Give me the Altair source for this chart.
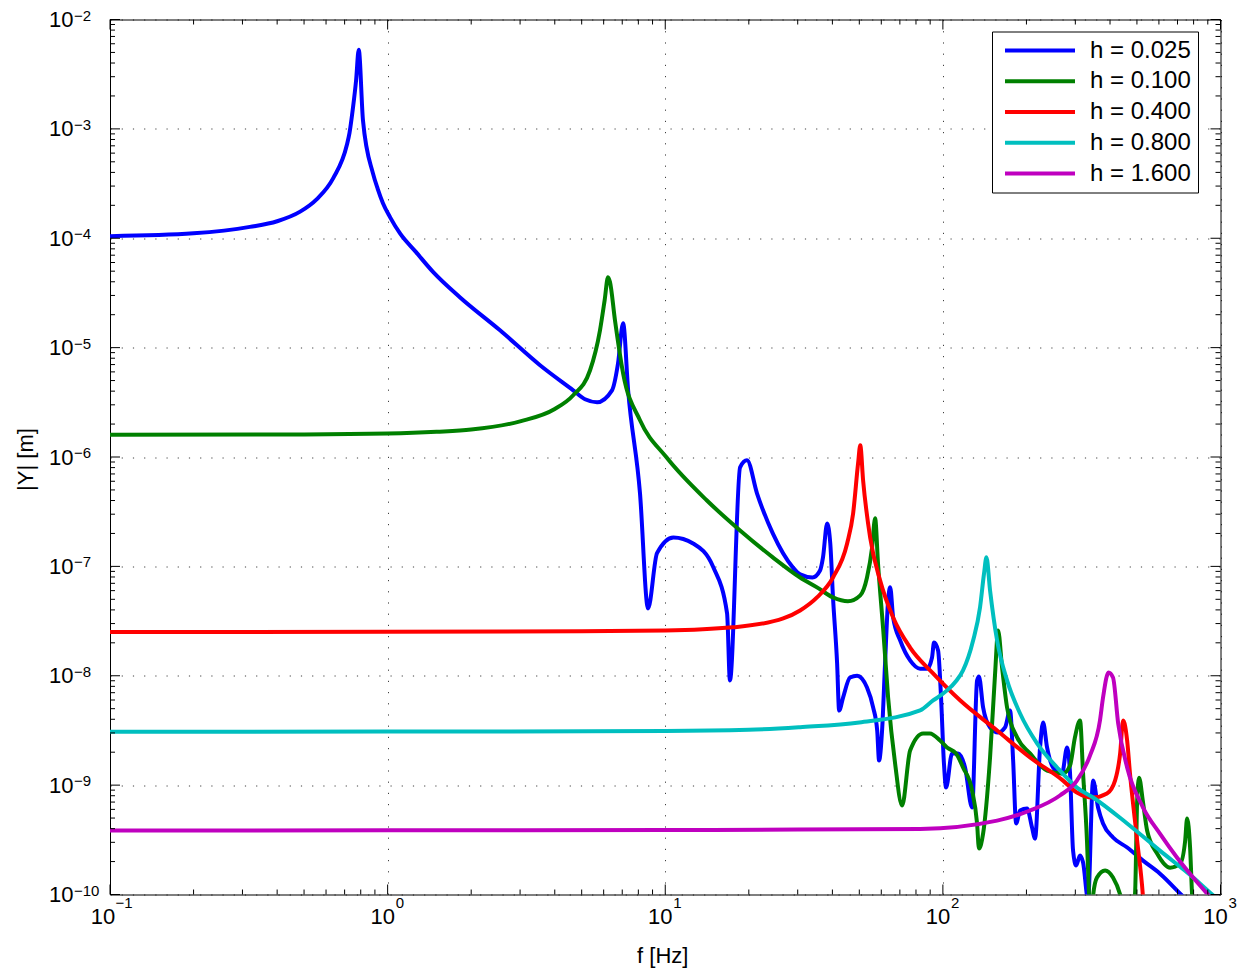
import altair as alt
import pandas as pd

labels = ["h = 0.025", "h = 0.100", "h = 0.400", "h = 0.800", "h = 1.600"]
colors = ["#0000ff", "#008000", "#ff0000", "#00bfbf", "#bf00bf"]

blue_f = [0.1, 0.2, 0.319, 0.4, 0.484, 0.556, 0.637, 0.713, 0.729, 0.75, 0.77, 0.787, 0.815, 0.885,
          0.921, 0.962, 1.02, 1.11, 1.266, 1.46, 1.82, 2.54, 3.54, 4.66, 5.14, 5.68, 6.43, 6.76, 7.05,
          7.35, 8.11, 8.67, 9.34, 10.7, 12.6,
          14.9, 16.7, 17.1, 18.6, 19.7, 21.4, 24.4, 28.8, 30.6, 33.9, 36.1, 37.0, 38.3, 39.3, 40.2,
          41.6, 42.3, 43.7, 46.3, 49.1, 53.3, 56.1, 58.0, 58.9, 60.4, 61.9, 63.5, 64.6, 66.2, 70.2,
          76.2, 82.8, 87.7, 91.4, 92.9, 96.1, 98.5, 100.9, 102.7, 107.9, 113.4, 120.2, 127.4, 132.8,
          134.9, 139.6, 147.9, 158.1, 167.5, 174.6, 179.1, 183.6, 189.7, 201.0, 209.5, 214.8, 223.9,
          229.6, 237.3, 249.5, 268.7, 280.1, 287.1, 294.4, 302, 311.9, 319.9, 333.4, 347.5, 362.2,
          377.5, 410.2, 461.3, 526, 605.5, 715.6, 845]
blue_y = [1.045e-4, 1.11e-4, 1.27e-4, 1.43e-4, 1.75e-4, 2.28e-4, 3.55e-4, 7.11e-4, 9.2e-4, 1.55e-3,
          2.79e-3, 5.3e-3, 1.2e-3, 3.94e-4, 2.83e-4, 2.09e-4, 1.56e-4, 1.1e-4, 7.46e-5, 4.9e-5,
          2.89e-5, 1.44e-5, 6.9e-6, 4.07e-6, 3.37e-6, 3.17e-6,
          4.07e-6, 7.2e-6, 1.67e-5, 4.07e-6, 4.66e-7, 4.13e-8, 1.32e-7, 1.84e-7, 1.62e-7, 9.8e-8,
          3.72e-8, 9.06e-9, 8.05e-7, 9.33e-7, 4.66e-7, 2.0e-7, 9.8e-8, 8.45e-8, 7.92e-8, 9.18e-8,
          1.21e-7, 2.47e-7, 1.62e-7, 5.2e-8, 1.29e-8, 4.81e-9, 6.32e-9, 9.64e-9, 1.0e-8, 7.8e-9,
          5.12e-9, 3.16e-9, 1.68e-9, 3.16e-9, 1.29e-8, 4.89e-8, 6.43e-8, 3.41e-8, 2.1e-8, 1.38e-8,
          1.16e-8, 1.16e-8, 1.47e-8, 2.01e-8, 1.70e-8, 6.32e-9, 1.57e-9, 9.5e-10, 1.95e-9, 1.95e-9,
          1.45e-9, 6.24e-10, 9.06e-9, 9.86e-9, 5.13e-9, 3.37e-9, 3.03e-9, 3.37e-9, 4.82e-9, 1.68e-9,
          4.46e-10, 5.86e-10, 6.11e-10, 4.09e-10, 3.24e-10, 2.21e-9, 3.74e-9, 2.21e-9, 1.45e-9,
          1.28e-9, 2.21e-9, 1.28e-9, 2.52e-10, 1.84e-10, 2.27e-10, 1.96e-10, 9e-11, 1.1e-9, 6.24e-10,
          4.46e-10, 3.32e-10, 2.69e-10, 2.04e-10, 1.55e-10, 1.02e-10, 6.7e-11]

green_f = [0.1, 0.5, 1.0, 1.5, 2.0, 3.0, 4.0, 4.66, 5.36, 5.82, 6.05, 6.22, 6.32, 6.59, 7.05, 8.11, 10.1,
           14.1, 18.6, 24.4, 30.6, 35.2, 40.2, 45.5, 50.4, 53.3, 55.6, 57.0, 58.4, 61.0, 63.5, 67.3,
           71.3, 76.2, 84.9, 89.8, 97.7, 103.5, 111.5, 118.2, 127.4, 132.8, 134.9, 139.6, 147.9,
           154.2, 158.1, 163.4, 170.3, 185.1, 206, 237.3, 271, 287.1, 299, 311.9, 319.9, 330.4, 336,
           342, 348, 359, 384, 410, 435, 461, 492, 501, 509, 525, 544, 591, 658, 716, 746, 758, 777,
           790, 810]
green_y = [1.60e-6, 1.61e-6, 1.64e-6, 1.70e-6, 1.78e-6, 2.12e-6, 2.75e-6, 3.67e-6, 6.21e-6, 1.44e-5,
           2.72e-5, 4.4e-5, 4.0e-5, 1.78e-5, 5.83e-6, 2.17e-6, 9.93e-7, 4.02e-7, 2.13e-7, 1.21e-7,
           7.92e-8, 6.43e-8, 5.2e-8, 4.79e-8, 5.43e-8, 7.92e-8, 1.49e-7, 2.75e-7, 1.06e-7, 2.59e-8,
           6.32e-9, 1.57e-9, 6.5e-10, 2.07e-9, 2.97e-9, 2.97e-9, 2.56e-9, 2.21e-9, 1.95e-9, 1.45e-9,
           8.95e-10, 4.46e-10, 2.63e-10, 3.6e-10, 1.79e-9, 1.05e-8, 2.59e-8, 1.19e-8, 5.13e-9, 2.73e-9,
           1.95e-9, 1.36e-9, 1.28e-9, 1.51e-9, 2.73e-9, 3.9e-9, 1.28e-9, 3.11e-10, 1.0e-10, 4e-11,
           1.0e-10, 1.43e-10, 1.66e-10, 1.43e-10, 1.0e-10, 5e-11, 1.0e-10, 7.2e-10, 1.17e-9, 7.2e-10,
           3.85e-10, 2.37e-10, 1.76e-10, 1.92e-10, 3.11e-10, 4.94e-10, 2.69e-10, 1.0e-10, 5e-11]

red_f = [0.1, 1.0, 5.0, 10.0, 17.5, 26.6, 30.6, 35.2, 40.2, 45.2, 47.5, 49.5, 50.4, 51.6, 54.7, 59.4,
         66.2, 76.2, 92.2, 115.3, 156.8, 206, 271, 304, 347.5, 390, 417, 435, 446, 461, 472, 501,
         525, 535]
red_y = [2.51e-8, 2.52e-8, 2.55e-8, 2.59e-8, 2.77e-8, 3.34e-8, 3.95e-8, 5.2e-8, 7.92e-8, 1.62e-7,
         3.05e-7, 8.75e-7, 1.28e-6, 6.12e-7, 1.84e-7, 7.45e-8, 3.41e-8, 1.81e-8, 1.05e-8, 5.96e-9,
         3.16e-9, 1.79e-9, 1.1e-9, 8.55e-10, 7.71e-10, 8.38e-10, 1.1e-9, 1.95e-9, 3.9e-9, 2.56e-9,
         1.28e-9, 3.11e-10, 1.0e-10, 5e-11]

cyan_f = [0.1, 1.0, 10.0, 20.0, 30.6, 50.0, 82.8, 92.2, 98.0, 103.5, 112.0, 118.2, 128.5, 136.1,
          140.7, 143.5, 147.9, 156.8, 170.3, 189.7, 218.4, 257.9, 304, 347.5, 461, 605, 797, 933, 1000]
cyan_y = [3.08e-9, 3.09e-9, 3.12e-9, 3.2e-9, 3.39e-9, 3.74e-9, 4.82e-9, 5.94e-9, 6.6e-9, 7.35e-9,
          9.06e-9, 1.12e-8, 2.1e-8, 4.22e-8, 8.63e-8, 1.21e-7, 6.03e-8, 2.1e-8, 9.06e-9, 4.52e-9,
          2.41e-9, 1.45e-9, 9.5e-10, 7.71e-10, 4.46e-10, 2.52e-10, 1.43e-10, 1.0e-10, 8.6e-11]

mag_f = [0.1, 1.0, 10.0, 30.0, 82.8, 156.8, 206, 264, 304, 339, 368, 377.5, 395, 410, 428, 461, 526,
         605, 698, 797, 895, 1000]
mag_y = [3.85e-10, 3.86e-10, 3.88e-10, 3.92e-10, 3.98e-10, 4.74e-10, 5.86e-10, 8.04e-10, 1.1e-9,
         1.87e-9, 3.9e-9, 6.32e-9, 1.07e-8, 9.64e-9, 3.66e-9, 1.45e-9, 6.24e-10, 3.6e-10, 2.17e-10,
         1.43e-10, 1.02e-10, 7.5e-11]

x_major = [0.1, 1, 10, 100, 1000]
x_exp = ["\u22121", "0", "1", "2", "3"]
y_major = [1e-10, 1e-9, 1e-8, 1e-7, 1e-6, 1e-5, 1e-4, 1e-3, 1e-2]
y_exp = ["\u221210", "\u22129", "\u22128", "\u22127", "\u22126", "\u22125", "\u22124", "\u22123", "\u22122"]
x_minor = [m * 10.0 ** k for k in range(-1, 3) for m in range(2, 10)]
y_minor = [m * 10.0 ** k for k in range(-10, -2) for m in range(2, 10)]

series = [(labels[0], blue_f, blue_y), (labels[1], green_f, green_y), (labels[2], red_f, red_y),
          (labels[3], cyan_f, cyan_y), (labels[4], mag_f, mag_y)]
rows = []
for name, fs, ysv in series:
    for i, (f, y) in enumerate(zip(fs, ysv)):
        rows.append({"h": name, "f": f, "Y": y, "i": i})
df = pd.DataFrame(rows)

W, H = 1110.5, 875
FONT = "Liberation Sans"
xs = alt.Scale(type="log", domain=[0.1, 1000], nice=False)
ys = alt.Scale(type="log", domain=[1e-10, 1e-2], nice=False)

x_axis = alt.Axis(values=x_major, labelExpr="'10'", labelFont=FONT, labelFontSize=22, labelColor="black",
                  labelPadding=12, labelOffset={"condition": {"test": "datum.value < 0.5", "value": -7.5}, "value": -5.5},
                  labelFlush=False, labelOverlap=False, ticks=False, domain=False,
                  grid=True, gridColor="black", gridOpacity=0.75, gridDash=[1.2, 10], gridWidth=1,
                  title="f [Hz]", titleFont=FONT, titleFontSize=22, titleFontWeight="normal",
                  titleColor="black", titleX=W / 2 - 3, titleY=68, titleBaseline="alphabetic",
                  titleAlign="center")
y_axis = alt.Axis(values=y_major, labelExpr="'10'", labelFont=FONT, labelFontSize=22, labelColor="black",
                  labelPadding=37, labelAlign="right", labelBaseline="middle", labelFlush=False,
                  labelOverlap=False, ticks=False, domain=False,
                  grid=True, gridColor="black", gridOpacity=0.75, gridDash=[1.2, 10], gridWidth=1,
                  title="|Y| [m]", titleFont=FONT, titleFontSize=22, titleFontWeight="normal",
                  titleColor="black", titleX=-78, titleY=H / 2 + 2, titleAngle=270,
                  titleBaseline="alphabetic", titleAlign="center")

legend = alt.Legend(title=None, orient="none", legendX=882, legendY=12, fillColor="white",
                    strokeColor="black", padding=7, labelFont=FONT, labelFontSize=24,
                    labelColor="black", labelLimit=400,
                    symbolType="M-3.5,0H3.5", symbolSize=400, symbolStrokeWidth=4,
                    rowPadding=6.75, labelOffset=38, symbolOffset=29)

X = lambda fld: alt.X(fld, scale=xs, axis=x_axis)
Y = lambda fld: alt.Y(fld, scale=ys, axis=y_axis)

lines = alt.Chart(df).mark_line(strokeWidth=4, clip=True, interpolate="monotone",
                                strokeJoin="round", strokeCap="round").encode(
    x=X("f:Q"),
    y=Y("Y:Q"),
    color=alt.Color("h:N", scale=alt.Scale(domain=labels, range=colors), legend=legend),
    order="i:Q",
)

layers = [lines]
for vals, L in [(x_major, 10), (x_minor, 5)]:
    base = alt.Chart(pd.DataFrame({"v": vals})).mark_rule(color="black", strokeWidth=1)
    layers.append(base.encode(x=X("v:Q"), y=alt.value(H), y2=alt.value(H - L)))
    layers.append(base.encode(x=X("v:Q"), y=alt.value(0), y2=alt.value(L)))
for vals, L in [(y_major, 10), (y_minor, 5)]:
    base = alt.Chart(pd.DataFrame({"v": vals})).mark_rule(color="black", strokeWidth=1)
    layers.append(base.encode(y=Y("v:Q"), x=alt.value(0), x2=alt.value(L)))
    layers.append(base.encode(y=Y("v:Q"), x=alt.value(W), x2=alt.value(W - L)))

exp_x_neg = alt.Chart(pd.DataFrame({"v": x_major[:1], "e": x_exp[:1]})).mark_text(
    align="left", baseline="alphabetic", font=FONT, fontSize=15, color="black", dx=5.5).encode(
    x=X("v:Q"), y=alt.value(H + 13), text="e:N")
exp_x_pos = alt.Chart(pd.DataFrame({"v": x_major[1:], "e": x_exp[1:]})).mark_text(
    align="left", baseline="alphabetic", font=FONT, fontSize=15, color="black", dx=8).encode(
    x=X("v:Q"), y=alt.value(H + 13), text="e:N")
exp_y = alt.Chart(pd.DataFrame({"v": y_major, "e": y_exp})).mark_text(
    align="left", baseline="alphabetic", font=FONT, fontSize=15, color="black", dy=1).encode(
    y=Y("v:Q"), x=alt.value(-36), text="e:N")
layers += [exp_x_neg, exp_x_pos, exp_y]

chart = alt.layer(*layers).properties(
    width=W, height=H,
    autosize=alt.AutoSizeParams(type="none"),
    padding={"left": 110, "top": 19.5, "right": 34.5, "bottom": 79.5},
    background="white",
).configure_view(stroke="black", strokeWidth=1)

chart.save("out.html", embed_options={"renderer": "svg", "actions": False})
